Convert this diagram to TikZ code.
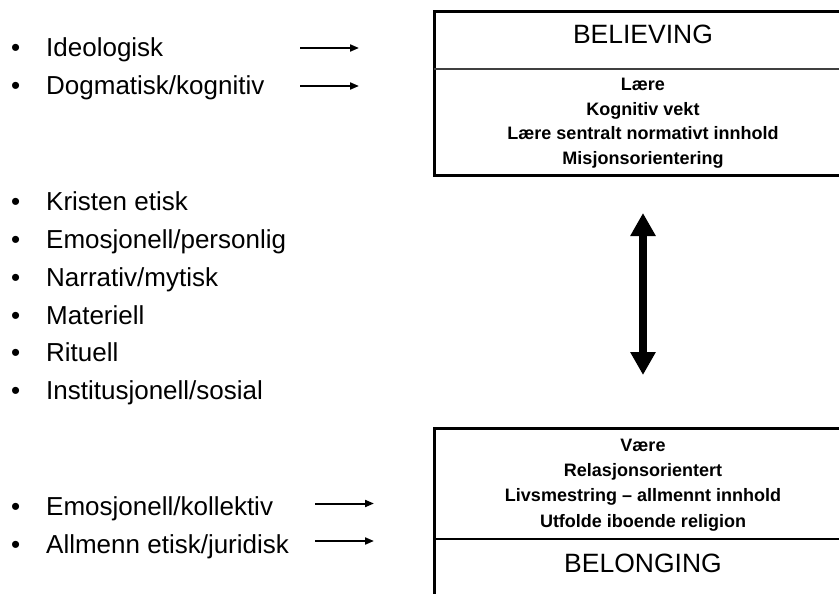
\documentclass[tikz,border=0pt]{standalone}
\usepackage{fontspec}
\setmainfont{Liberation Sans}
\usetikzlibrary{positioning, arrows.meta}
\newcommand{\punkt}[1]{\makebox[260pt][l]{\makebox[35.2pt][l]{\textbullet}#1}}
\tikzset{
	item/.style={
		inner sep=0pt,
		text height=19pt,
		text depth=6pt,
		font=\fontsize{26}{30}\selectfont,
	},
	headtxt/.style={
		inner sep=0pt,
		font=\fontsize{26.5}{30}\selectfont,
	},
	feat/.style={
		inner sep=0pt,
		text height=13pt,
		text depth=4pt,
		font=\bfseries\fontsize{18}{22}\selectfont,
	},
	frame/.style={
		rectangle,
		draw,
		line width=3pt,
		minimum width=418pt,
		inner sep=0pt,
		outer sep=0pt,
	},
	split/.style={
		line width=2pt,
	},
	pointer/.style={
		line width=2pt,
		arrows={-Triangle[length=9pt,width=7pt]},
	},
	bigarrow/.style={
		line width=8pt,
		>={Triangle[length=23pt,width=24pt]},
		<->,
	},
}

\begin{document}
\begin{tikzpicture}[x=1pt, y=-1pt]
	\useasboundingbox (0,0) rectangle (839,594);
	\clip (0,0) rectangle (839,594);

	% left list
	\node [item, anchor=base west] (ideo) at (10.8,57) {\punkt{Ideologisk}};
	\node [item, below=12.5pt of ideo] (dogme) {\punkt{Dogmatisk/kognitiv}};
	\node [item, below=90pt of dogme] (kristen) {\punkt{Kristen etisk}};
	\node [item, below=12.5pt of kristen] (emopers) {\punkt{Emosjonell/personlig}};
	\node [item, below=12.5pt of emopers] (narr) {\punkt{Narrativ/mytisk}};
	\node [item, below=12.5pt of narr] (mat) {\punkt{Materiell}};
	\node [item, below=12.5pt of mat] (rit) {\punkt{Rituell}};
	\node [item, below=12.5pt of rit] (inst) {\punkt{Institusjonell/sosial}};
	\node [item, below=90pt of inst] (emokoll) {\punkt{Emosjonell/kollektiv}};
	\node [item, below=12.5pt of emokoll] (allm) {\punkt{Allmenn etisk/juridisk}};

	% believing
	\node [frame, minimum height=163pt] (believe) at (643,93.5) {};
	\node [headtxt, anchor=base] (believehd) at (643,44) {BELIEVING};
	\coordinate (bsplit) at (434,69);
	\draw [split, black!75] (bsplit) -- (bsplit -| believe.east);
	\node [feat, anchor=base] (laere) at (643,91) {Lære};
	\node [feat, below=7pt of laere] (kogn) {Kognitiv vekt};
	\node [feat, below=7pt of kogn] (sentral) {Lære sentralt normativt innhold};
	\node [feat, below=7pt of sentral] (misjon) {Misjonsorientering};

	% belonging
	\node [frame, minimum height=190pt] (belong) at (643,523) {};
	\node [feat, anchor=base] (vaere) at (643,451) {Være};
	\node [feat, below=8pt of vaere] (relasjon) {Relasjonsorientert};
	\node [feat, below=8pt of relasjon] (livs) {Livsmestring – allmennt innhold};
	\node [feat, below=8pt of livs] (utfolde) {Utfolde iboende religion};
	\coordinate (lsplit) at (434,539);
	\draw [line width=1.5pt] (lsplit) -- (lsplit -| belong.east);
	\node [headtxt, anchor=base] (belonghd) at (643,572) {BELONGING};

	% arrows
	\coordinate (ideoA) at (300,48);
	\coordinate (ideoB) at (359,48);
	\coordinate (dogmeA) at (300,86);
	\coordinate (dogmeB) at (359,86);
	\coordinate (emokollA) at (315,503.5);
	\coordinate (emokollB) at (374,503.5);
	\coordinate (allmA) at (315,541);
	\coordinate (allmB) at (374,541);
	\draw [pointer] (ideoA) -- (ideoB);
	\draw [pointer] (dogmeA) -- (dogmeB);
	\draw [pointer] (emokollA) -- (emokollB);
	\draw [pointer] (allmA) -- (allmB);
	\draw [bigarrow, shorten <=38pt, shorten >=53pt] (believe.south) -- (belong.north);
\end{tikzpicture}
\end{document}
